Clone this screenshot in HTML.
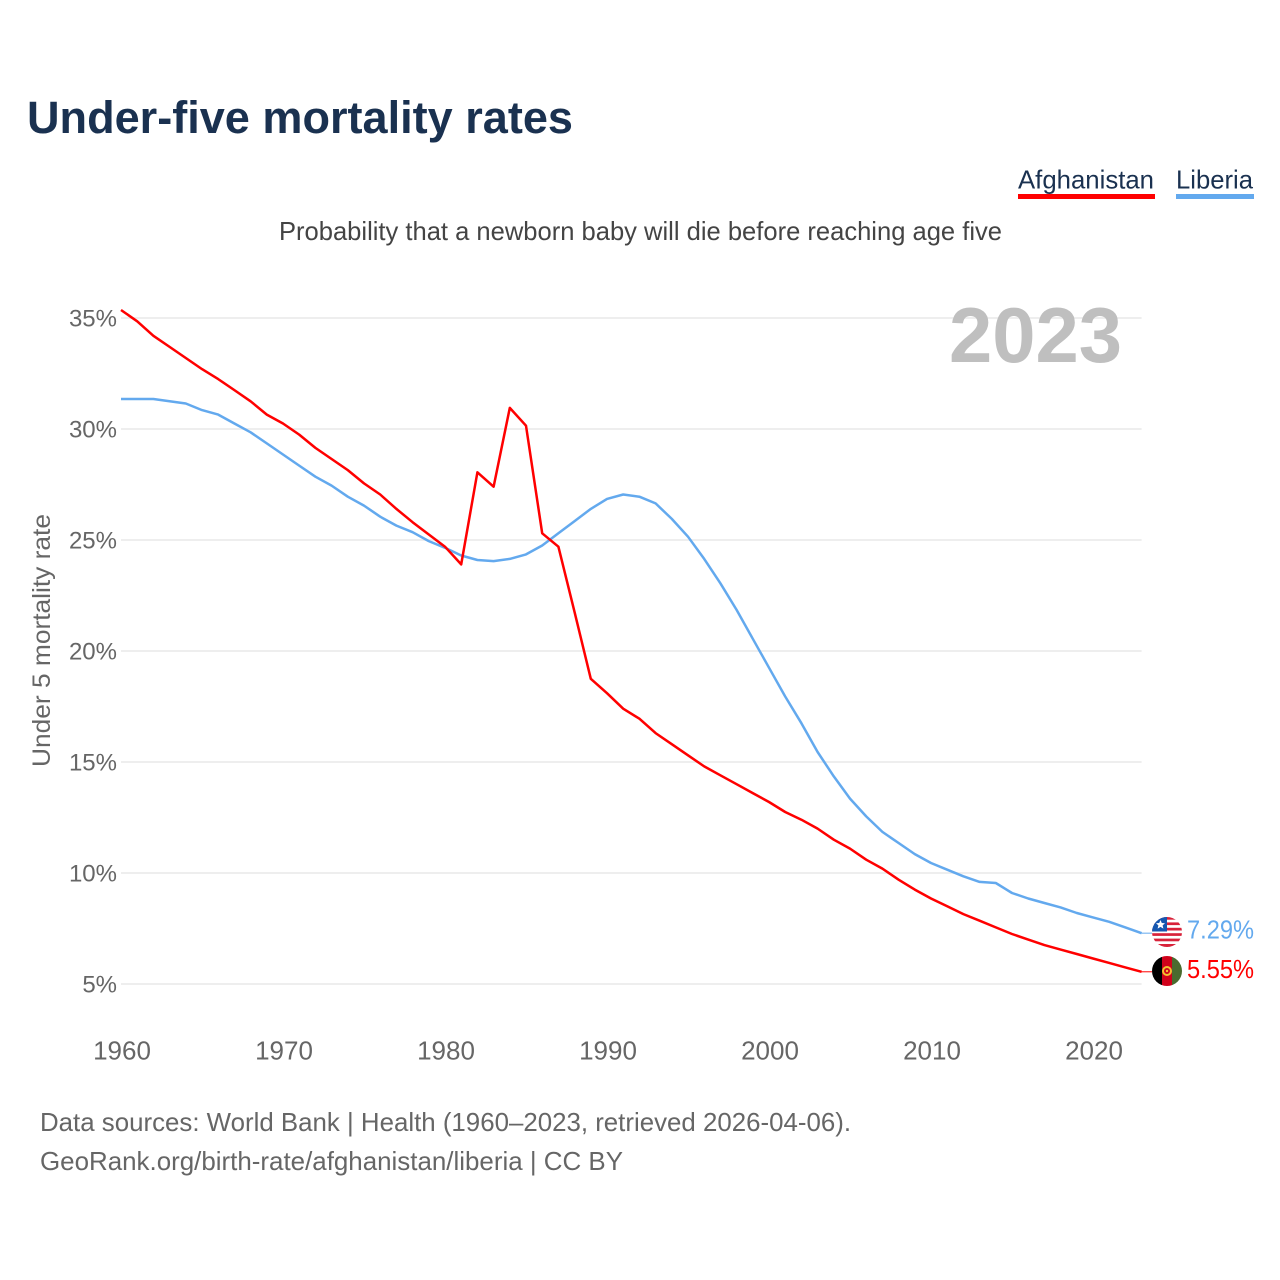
<!DOCTYPE html>
<html lang="en">
<head>
<meta charset="utf-8">
<title>Under-five mortality rates</title>
<style>
html,body{margin:0;padding:0;background:#fff;width:1280px;height:1280px;overflow:hidden}
svg{display:block}
text{font-family:"Liberation Sans",sans-serif}
</style>
</head>
<body>
<svg id="chart" width="1280" height="1280" viewBox="0 0 1280 1280" xmlns="http://www.w3.org/2000/svg">
  <defs>
    <clipPath id="clip-lr"><circle cx="1167" cy="932" r="15"/></clipPath>
    <clipPath id="clip-af"><circle cx="1167" cy="971" r="15"/></clipPath>
  </defs>
  <rect width="1280" height="1280" fill="#fff"/>
  <text x="27" y="133" font-size="45" font-weight="700" fill="#1a3150" textLength="546" lengthAdjust="spacingAndGlyphs">Under-five mortality rates</text>
  <text x="1018" y="188.5" font-size="26" fill="#1a3150" textLength="136" lengthAdjust="spacingAndGlyphs">Afghanistan</text>
  <rect x="1018" y="194" width="137" height="5" fill="#ff0000"/>
  <text x="1176" y="188.5" font-size="26" fill="#1a3150" textLength="77" lengthAdjust="spacingAndGlyphs">Liberia</text>
  <rect x="1176" y="194" width="78" height="5" fill="#63a9ee"/>
  <text x="279" y="240" font-size="26" fill="#444" textLength="723" lengthAdjust="spacingAndGlyphs">Probability that a newborn baby will die before reaching age five</text>
  <g id="grid"></g>
  <text x="949" y="362" font-size="78" font-weight="700" fill="#bfbfbf" textLength="173" lengthAdjust="spacingAndGlyphs">2023</text>
  <text transform="translate(50,767) rotate(-90)" font-size="25" fill="#666" textLength="253" lengthAdjust="spacingAndGlyphs">Under 5 mortality rate</text>
  <g id="yticks"></g>
  <g id="xticks"></g>
  <g id="series"></g>

  <g clip-path="url(#clip-lr)">
    <rect x="1152" y="917" width="30" height="30" fill="#fff"/>
    <rect x="1152" y="917" width="30" height="2.7" fill="#d8223a"/>
    <rect x="1152" y="922.4" width="30" height="2.7" fill="#d8223a"/>
    <rect x="1152" y="927.8" width="30" height="2.7" fill="#d8223a"/>
    <rect x="1152" y="933.2" width="30" height="2.7" fill="#d8223a"/>
    <rect x="1152" y="938.6" width="30" height="2.7" fill="#d8223a"/>
    <rect x="1152" y="944" width="30" height="3" fill="#d8223a"/>
    <rect x="1152" y="917" width="15" height="14.5" fill="#1557b0"/>
    <polygon points="1160.5,920 1161.8,923 1165,923.3 1162.6,925.4 1163.4,928.6 1160.5,926.9 1157.6,928.6 1158.4,925.4 1156,923.3 1159.2,923" fill="#fff"/>
  </g>
  <g clip-path="url(#clip-af)">
    <rect x="1152" y="956" width="10" height="30" fill="#000"/>
    <rect x="1162" y="956" width="10" height="30" fill="#d0021b"/>
    <rect x="1172" y="956" width="10" height="30" fill="#4a6b2f"/>
    <circle cx="1167" cy="971" r="4" fill="none" stroke="#f2c230" stroke-width="2"/>
    <circle cx="1167" cy="971" r="1.2" fill="#f2c230"/>
  </g>
  <text x="1187" y="938.5" font-size="26" fill="#63a9ee" textLength="67" lengthAdjust="spacingAndGlyphs">7.29%</text>
  <text x="1187" y="978" font-size="26" fill="#ff0000" textLength="67" lengthAdjust="spacingAndGlyphs">5.55%</text>

  <text x="40" y="1131" font-size="26" fill="#666" textLength="811" lengthAdjust="spacingAndGlyphs">Data sources: World Bank | Health (1960–2023, retrieved 2026-04-06).</text>
  <text x="40" y="1170" font-size="26" fill="#666" textLength="583" lengthAdjust="spacingAndGlyphs">GeoRank.org/birth-rate/afghanistan/liberia | CC BY</text>
</svg>
<script>
var startYear = 1960;
var afghanistan = [35.36,34.85,34.2,33.7,33.2,32.7,32.25,31.75,31.25,30.65,30.25,29.75,29.15,28.65,28.15,27.55,27.05,26.4,25.8,25.25,24.7,23.9,28.05,27.4,30.95,30.15,25.3,24.7,21.75,18.75,18.1,17.4,16.95,16.3,15.8,15.3,14.8,14.4,14,13.6,13.2,12.75,12.4,12,11.5,11.1,10.6,10.2,9.7,9.25,8.85,8.5,8.15,7.85,7.55,7.25,7,6.75,6.55,6.35,6.15,5.95,5.75,5.55];
var liberia = [31.35,31.35,31.35,31.25,31.15,30.85,30.65,30.25,29.85,29.35,28.85,28.35,27.85,27.45,26.95,26.55,26.05,25.65,25.35,24.95,24.65,24.3,24.1,24.05,24.15,24.35,24.75,25.3,25.85,26.4,26.85,27.05,26.95,26.65,25.95,25.15,24.15,23.05,21.85,20.55,19.25,17.95,16.75,15.45,14.35,13.35,12.55,11.85,11.35,10.85,10.45,10.15,9.85,9.6,9.55,9.1,8.85,8.65,8.45,8.2,8,7.8,7.55,7.29];
var yTickValues = [5,10,15,20,25,30,35];
var yTickLabels = ["5%","10%","15%","20%","25%","30%","35%"];
var xTickValues = [1960,1970,1980,1990,2000,2010,2020];
var xTickLabels = ["1960","1970","1980","1990","2000","2010","2020"];

var SVGNS = "http://www.w3.org/2000/svg";
function xScale(year){ return 121 + (year - 1960) * 16.2; }
function yScale(v){ return 984 - (v - 5) * 22.2; }

var gridG = document.getElementById("grid");
var yG = document.getElementById("yticks");
var xG = document.getElementById("xticks");
var seriesG = document.getElementById("series");

yTickValues.forEach(function(v, i){
  var line = document.createElementNS(SVGNS, "line");
  
  
  line.setAttribute("x1", xScale(1960));
  line.setAttribute("x2", xScale(2023));
  line.setAttribute("y1", yScale(v));
  line.setAttribute("y2", yScale(v));
  line.setAttribute("stroke", "#eeeeee");
  line.setAttribute("stroke-width", "2");
  gridG.appendChild(line);

  var t = document.createElementNS(SVGNS, "text");
  
  
  t.setAttribute("x", 117);
  t.setAttribute("y", yScale(v) + 8.3);
  t.setAttribute("text-anchor", "end");
  t.setAttribute("font-size", "24");
  t.setAttribute("fill", "#666");
  t.textContent = yTickLabels[i];
  yG.appendChild(t);
});

xTickValues.forEach(function(v, i){
  var t = document.createElementNS(SVGNS, "text");
  
  
  t.setAttribute("x", xScale(v) + 1);
  t.setAttribute("y", 1059.5);
  t.setAttribute("text-anchor", "middle");
  t.setAttribute("font-size", "26");
  t.setAttribute("fill", "#666");
  t.textContent = xTickLabels[i];
  xG.appendChild(t);
});

function pointsFor(values){
  return values.map(function(v, i){
    return xScale(startYear + i).toFixed(1) + "," + yScale(v).toFixed(1);
  }).join(" ");
}

var lineLib = document.createElementNS(SVGNS, "polyline");


lineLib.setAttribute("points", pointsFor(liberia));
lineLib.setAttribute("fill", "none");
lineLib.setAttribute("stroke", "#63a9ee");
lineLib.setAttribute("stroke-width", "2.5");
lineLib.setAttribute("stroke-linejoin", "round");
seriesG.appendChild(lineLib);

var lineAfg = document.createElementNS(SVGNS, "polyline");


lineAfg.setAttribute("points", pointsFor(afghanistan));
lineAfg.setAttribute("fill", "none");
lineAfg.setAttribute("stroke", "#ff0000");
lineAfg.setAttribute("stroke-width", "2.5");
lineAfg.setAttribute("stroke-linejoin", "round");
seriesG.appendChild(lineAfg);

var connLib = document.createElementNS(SVGNS, "line");


connLib.setAttribute("x1", xScale(2023));
connLib.setAttribute("x2", 1152);
connLib.setAttribute("y1", yScale(liberia[liberia.length - 1]));
connLib.setAttribute("y2", yScale(liberia[liberia.length - 1]));
connLib.setAttribute("stroke", "#63a9ee");
connLib.setAttribute("stroke-width", "1");
seriesG.appendChild(connLib);

var connAfg = document.createElementNS(SVGNS, "line");


connAfg.setAttribute("x1", xScale(2023));
connAfg.setAttribute("x2", 1152);
connAfg.setAttribute("y1", yScale(afghanistan[afghanistan.length - 1]));
connAfg.setAttribute("y2", yScale(afghanistan[afghanistan.length - 1]));
connAfg.setAttribute("stroke", "#ff0000");
connAfg.setAttribute("stroke-width", "1");
seriesG.appendChild(connAfg);
</script>
</body>
</html>
